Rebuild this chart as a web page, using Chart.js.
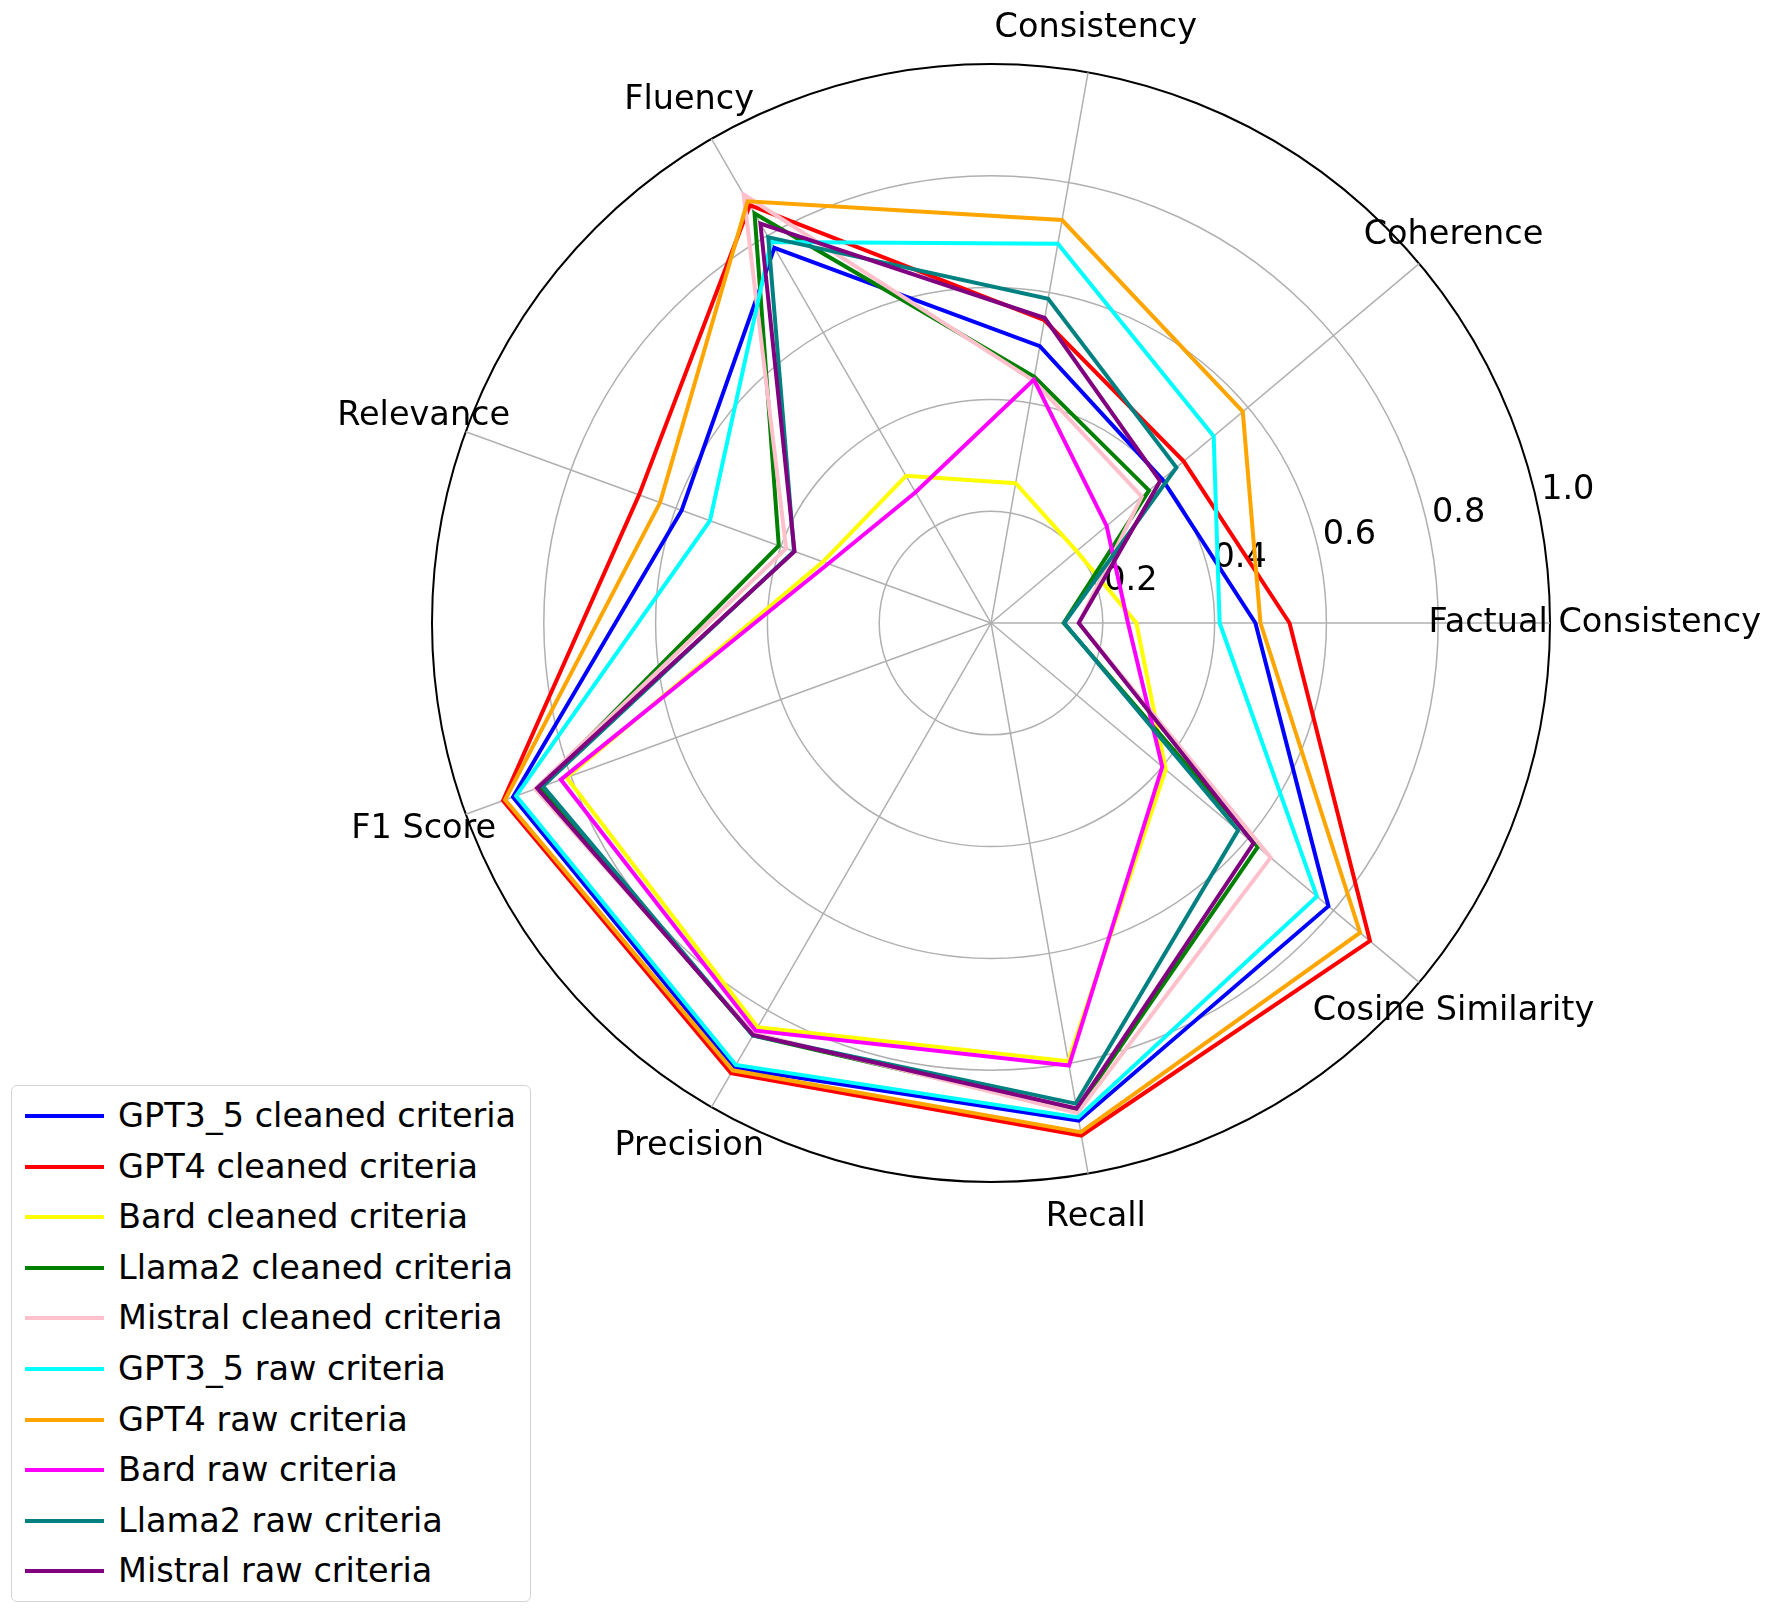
<!DOCTYPE html>
<html>
<head>
<meta charset="utf-8">
<script src="https://cdn.jsdelivr.net/npm/chart.js@4/dist/chart.umd.min.js"></script>
<style>
  html, body { margin: 0; padding: 0; background: #fff; overflow: hidden; }
  #wrap { position: relative; width: 1772px; height: 1617px; }
  #legend {
    position: absolute; left: 11px; top: 1085px; width: 520px; height: 517px;
    border: 1.5px solid #d4d4d4; border-radius: 6px; background: #fff;
    font-family: "DejaVu Sans", sans-serif; font-size: 33.5px; color: #000;
    box-sizing: border-box;
  }
  .row { position: absolute; left: 0; height: 40px; white-space: nowrap; }
  .swatch { position: absolute; left: 13px; top: 18px; width: 79px; height: 4px; }
  .txt { position: absolute; left: 106px; top: 0; line-height: 40px; }
</style>
</head>
<body>
<div id="wrap">
  <canvas id="radar" width="1772" height="1617"></canvas>
  <div id="legend"></div>
</div>
<script>
// ==========================
// Data (axes in the original counter-clockwise order, starting at the right)
// ==========================
const categories = ["Factual Consistency", "Coherence", "Consistency", "Fluency",
                    "Relevance", "F1 Score", "Precision", "Recall", "Cosine Similarity"];

const seriesNames = ["GPT3_5 cleaned criteria", "GPT4 cleaned criteria", "Bard cleaned criteria",
                     "Llama2 cleaned criteria", "Mistral cleaned criteria", "GPT3_5 raw criteria",
                     "GPT4 raw criteria", "Bard raw criteria", "Llama2 raw criteria", "Mistral raw criteria"];

const seriesColors = ["#0000ff", "#ff0000", "#ffff00", "#008000", "#ffc0cb",
                      "#00ffff", "#ffa500", "#ff00ff", "#008080", "#800080"];

const gpt35Cleaned   = [0.473, 0.40, 0.503, 0.775, 0.589, 0.910, 0.919, 0.904, 0.788];
const gpt4Cleaned    = [0.534, 0.45, 0.550, 0.863, 0.670, 0.929, 0.930, 0.931, 0.885];
const bardCleaned    = [0.260, 0.20, 0.254, 0.304, 0.320, 0.808, 0.835, 0.796, 0.408];
const llama2Cleaned  = [0.130, 0.369, 0.447, 0.846, 0.404, 0.860, 0.852, 0.885, 0.623];
const mistralCleaned = [0.157, 0.352, 0.440, 0.885, 0.390, 0.868, 0.848, 0.890, 0.653];
const gpt35Raw       = [0.409, 0.52, 0.689, 0.787, 0.535, 0.904, 0.913, 0.898, 0.761];
const gpt4Raw        = [0.482, 0.588, 0.732, 0.871, 0.630, 0.925, 0.924, 0.925, 0.862];
const bardRaw        = [0.245, 0.27, 0.442, 0.270, 0.310, 0.819, 0.842, 0.804, 0.400];
const llama2Raw      = [0.131, 0.433, 0.589, 0.797, 0.375, 0.853, 0.852, 0.873, 0.577];
const mistralRaw     = [0.157, 0.395, 0.554, 0.825, 0.374, 0.864, 0.851, 0.882, 0.613];

const seriesValues = [gpt35Cleaned, gpt4Cleaned, bardCleaned, llama2Cleaned, mistralCleaned,
                      gpt35Raw, gpt4Raw, bardRaw, llama2Raw, mistralRaw];

const tickValues = [0.2, 0.4, 0.6, 0.8, 1.0];
const tickLabels = ["0.2", "0.4", "0.6", "0.8", "1.0"];

// Chart.js walks clockwise, the original goes counter-clockwise: keep first, reverse the rest
const toClockwise = arr => [arr[0], ...arr.slice(1).reverse()];

const FONT = '33.5px "DejaVu Sans", sans-serif';

// labels around the circle + radial tick labels (matplotlib style placement)
const polarText = {
  id: "polarText",
  beforeDatasetsDraw(chart) {
    const scale = chart.scales.r;
    const ctx = chart.ctx;
    ctx.save();
    ctx.font = FONT;
    ctx.fillStyle = "#000";
    ctx.textAlign = "center";
    ctx.textBaseline = "middle";
    const labelDist = scale.getDistanceFromCenterForValue(1.08);
    chart.data.labels.forEach((lab, i) => {
      const p = scale.getPointPosition(i, labelDist);
      ctx.fillText(lab, p.x, p.y);
    });
    ctx.textAlign = "left";
    tickValues.forEach((v, i) => {
      const r = scale.getDistanceFromCenterForValue(v);
      ctx.fillText(tickLabels[i], scale.xCenter + 4 + 0.977 * r, scale.yCenter - 18.5 - 0.205 * r);
    });
    ctx.restore();
  }
};

const ctx = document.getElementById("radar").getContext("2d");
new Chart(ctx, {
  type: "radar",
  data: {
    labels: toClockwise(categories),
    datasets: seriesNames.map((name, i) => ({
      label: name,
      data: toClockwise(seriesValues[i]),
      borderColor: seriesColors[i],
      backgroundColor: "transparent",
      borderWidth: 4,
      fill: false,
      pointRadius: 0,
      pointHoverRadius: 0,
      tension: 0,
      order: seriesNames.length - i   // later series drawn on top
    }))
  },
  options: {
    responsive: false,
    animation: false,
    layout: { padding: { left: 432, right: 221, top: 64, bottom: 435 } },
    plugins: { legend: { display: false }, tooltip: { enabled: false } },
    scales: {
      r: {
        min: 0,
        max: 1,
        startAngle: 90,
        ticks: { display: false, stepSize: 0.2 },
        pointLabels: { display: false },
        grid: {
          circular: true,
          color: c => (c.tick && c.tick.value >= 0.999 ? "#000" : "#b0b0b0"),
          lineWidth: c => (c.tick && c.tick.value >= 0.999 ? 2 : 1.5)
        },
        angleLines: { color: "#b0b0b0", lineWidth: 1.5 }
      }
    }
  },
  plugins: [polarText]
});

// ==========================
// Legend box (bottom left)
// ==========================
const legendElem = document.getElementById("legend");
seriesNames.forEach((name, i) => {
  const row = document.createElement("div");
  row.className = "row";
  row.style.top = (10 + 50.6 * i) + "px";
  row.innerHTML = '<span class="swatch" style="background:' + seriesColors[i] + '"></span>' +
                  '<span class="txt">' + name + '</span>';
  legendElem.appendChild(row);
});
</script>
</body>
</html>
